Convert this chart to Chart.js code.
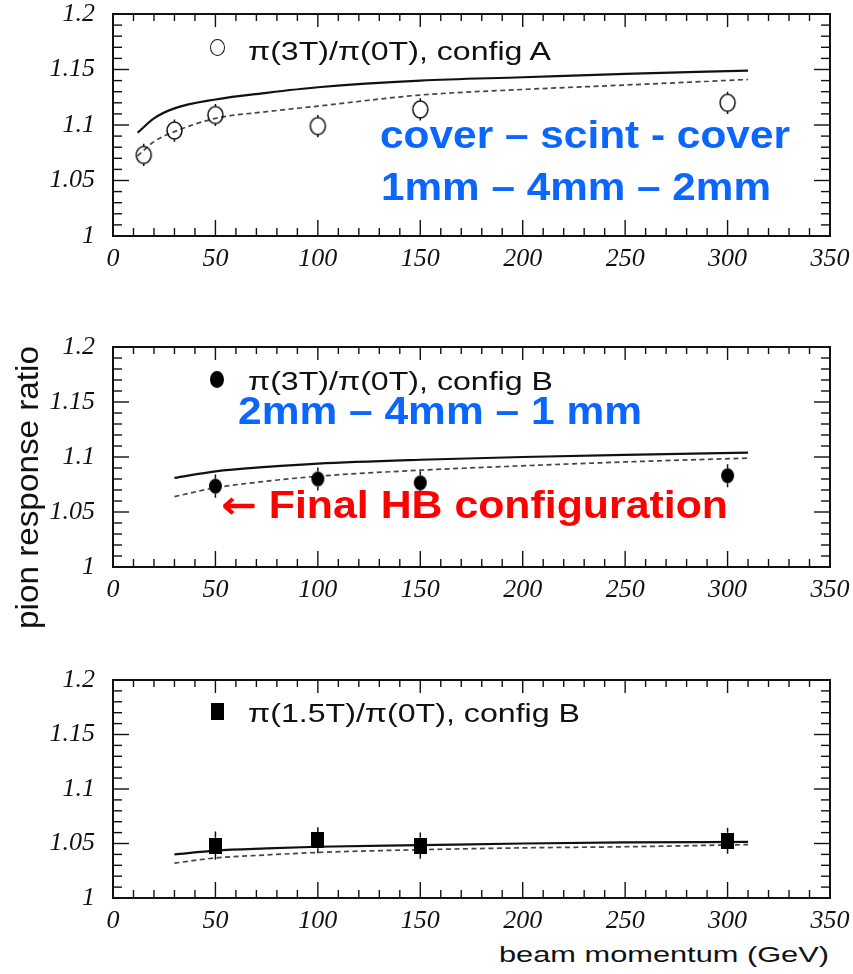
<!DOCTYPE html>
<html><head><meta charset="utf-8">
<script src="https://cdn.jsdelivr.net/npm/chart.js@4/dist/chart.umd.min.js"></script>
<style>
html,body{margin:0;padding:0;background:#fff;}
#wrap{position:relative;width:853px;height:974px;overflow:hidden;background:#fff;}
canvas.pl{position:absolute;left:0;}
.t{position:absolute;white-space:nowrap;transform-origin:0 0;line-height:1;}
.leg{font-family:"Liberation Sans",Arial,sans-serif;font-size:25px;color:#111;}
.big{font-family:"Liberation Sans",Arial,sans-serif;font-weight:bold;font-size:38px;}
.arr{font-family:"DejaVu Sans",sans-serif;font-weight:bold;}
.blue{color:#0a66ff;}
.red{color:#ff0000;}
.mk{position:absolute;box-sizing:border-box;}
</style></head><body>
<div id="wrap">
<canvas id="c1" class="pl" width="853" height="280" style="top:0px;width:853px;height:280px"></canvas>
<canvas id="c2" class="pl" width="853" height="290" style="top:320px;width:853px;height:290px"></canvas>
<canvas id="c3" class="pl" width="853" height="280" style="top:660px;width:853px;height:280px"></canvas>

<div class="mk" style="left:210px;top:39px;width:15px;height:17px;border:1.5px solid #111;border-radius:50%;"></div>
<div id="legA" class="t leg" style="left:248px;top:39px;">π(3T)/π(0T), config A</div>
<div class="mk" style="left:210px;top:371px;width:14px;height:17px;background:#000;border-radius:50%;"></div>
<div id="legB" class="t leg" style="left:248px;top:369px;">π(3T)/π(0T), config B</div>
<div class="mk" style="left:211px;top:703px;width:13px;height:17px;background:#000;"></div>
<div id="legC" class="t leg" style="left:248px;top:701px;">π(1.5T)/π(0T), config B</div>

<div id="blue1" class="t big blue" style="left:380px;top:116px;">cover – scint - cover</div>
<div id="blue2" class="t big blue" style="left:381px;top:168px;">1mm – 4mm – 2mm</div>
<div id="blue3" class="t big blue" style="left:238px;top:392px;">2mm – 4mm – 1 mm</div>
<div id="red1" class="t big red" style="left:221px;top:486px;"><span class="arr">←</span> Final HB configuration</div>

<div id="xtitle" class="t leg" style="left:500px;top:944px;font-size:22px;">beam momentum (GeV)</div>
<div id="ytitle" class="t leg" style="left:11px;top:629px;font-size:32px;">pion response ratio</div>
</div>
<script>
// ---------- data ----------
const xTickValues = [0, 50, 100, 150, 200, 250, 300, 350];
const yTickValues = [1, 1.05, 1.1, 1.15, 1.2];

// panel A: pi(3T)/pi(0T), config A
const momA = [15, 30, 50, 100, 150, 300];
const ratioA = [1.073, 1.095, 1.109, 1.099, 1.114, 1.120];
const errA = [0.010, 0.010, 0.010, 0.010, 0.010, 0.010];
const curveMomA = [12, 20, 30, 50, 75, 100, 150, 200, 250, 310];
const solidA = [1.093, 1.106, 1.115, 1.123, 1.129, 1.134, 1.140, 1.143, 1.146, 1.149];
const dashedA = [1.072, 1.085, 1.094, 1.106, 1.112, 1.117, 1.127, 1.132, 1.136, 1.141];

// panel B: pi(3T)/pi(0T), config B
const momB = [50, 100, 150, 300];
const ratioB = [1.0735, 1.080, 1.0765, 1.083];
const errB = [0.0105, 0.0105, 0.0105, 0.0105];
const curveMomB = [30, 50, 75, 100, 150, 200, 250, 310];
const solidB = [1.081, 1.087, 1.091, 1.094, 1.0975, 1.100, 1.102, 1.104];
const dashedB = [1.064, 1.072, 1.078, 1.0825, 1.088, 1.092, 1.0955, 1.099];

// panel C: pi(1.5T)/pi(0T), config B
const momC = [50, 100, 150, 300];
const ratioC = [1.048, 1.053, 1.048, 1.0525];
const errC = [0.013, 0.012, 0.012, 0.012];
const curveMomC = [30, 50, 75, 100, 150, 200, 250, 310];
const solidC = [1.040, 1.0435, 1.0455, 1.047, 1.0485, 1.050, 1.051, 1.0515];
const dashedC = [1.032, 1.0367, 1.0395, 1.0418, 1.0443, 1.046, 1.047, 1.049];

// ---------- markers ----------
function ellipseMarker(w, h, filled) {
  const c = document.createElement('canvas');
  c.width = w + 4; c.height = h + 4;
  const g = c.getContext('2d');
  g.beginPath();
  g.ellipse(c.width / 2, c.height / 2, w / 2, h / 2, 0, 0, Math.PI * 2);
  if (filled) { g.fillStyle = '#000'; g.fill(); }
  else { g.lineWidth = 1.5; g.strokeStyle = '#111'; g.stroke(); }
  return c;
}
function rectMarker(w, h) {
  const c = document.createElement('canvas');
  c.width = w; c.height = h;
  const g = c.getContext('2d');
  g.fillStyle = '#000'; g.fillRect(0, 0, w, h);
  return c;
}

// ---------- plugins ----------
const rootFrame = {
  id: 'rootFrame',
  afterDatasetsDraw(chart) {
    const { ctx, chartArea: a, scales: { x, y } } = chart;
    ctx.save();
    ctx.strokeStyle = '#111';
    ctx.lineWidth = 1.4;
    const seg = (x1, y1, x2, y2) => { ctx.beginPath(); ctx.moveTo(x1, y1); ctx.lineTo(x2, y2); ctx.stroke(); };
    for (let i = 0; i <= 35; i++) {
      const px = x.getPixelForValue(i * 10);
      const major = i % 5 === 0;
      seg(px, a.bottom, px, a.bottom - (major ? 16 : 8));
      seg(px, a.top, px, a.top + (major ? 13 : 7));
    }
    for (let i = 0; i <= 20; i++) {
      const py = y.getPixelForValue(1 + i * 0.01);
      const major = i % 5 === 0;
      seg(a.left, py, a.left + (major ? 16 : 9), py);
      seg(a.right, py, a.right - (major ? 16 : 9), py);
    }
    ctx.lineWidth = 2;
    ctx.strokeRect(a.left, a.top, a.width, a.height);
    ctx.restore();
  }
};
const errorBars = {
  id: 'errorBars',
  afterDatasetsDraw(chart) {
    const { ctx, scales: { y } } = chart;
    chart.data.datasets.forEach((ds, di) => {
      if (!ds.errors) return;
      const meta = chart.getDatasetMeta(di);
      ctx.save();
      ctx.strokeStyle = '#111';
      ctx.lineWidth = 1.5;
      meta.data.forEach((pt, i) => {
        const v = ds.data[i].y, e = ds.errors[i];
        const yTop = y.getPixelForValue(v + e), yBot = y.getPixelForValue(v - e);
        const gap = ds.markerHalf;
        ctx.beginPath();
        ctx.moveTo(pt.x, yTop); ctx.lineTo(pt.x, pt.y - gap);
        ctx.moveTo(pt.x, pt.y + gap); ctx.lineTo(pt.x, yBot);
        ctx.stroke();
      });
      ctx.restore();
    });
  }
};

const tickFont = { family: '"Liberation Serif", "Times New Roman", serif', style: 'italic', size: 26, lineHeight: 1 };

function makePanel(id, mom, ratio, errs, cMom, solid, dashed, marker, markerHalf, areaTop, areaBottom, canvasTop, canvasH) {
  const xyz = (xs, ys) => xs.map((v, i) => ({ x: v, y: ys[i] }));
  return new Chart(document.getElementById(id), {
    type: 'scatter',
    data: {
      datasets: [
        { data: xyz(mom, ratio), errors: errs, markerHalf: markerHalf, pointStyle: marker, pointRadius: 8, order: 0 },
        { data: xyz(cMom, solid), showLine: true, pointRadius: 0, borderColor: '#111', borderWidth: 2.2,
          cubicInterpolationMode: 'monotone', order: 1 },
        { data: xyz(cMom, dashed), showLine: true, pointRadius: 0, borderColor: '#444', borderWidth: 1.7,
          borderDash: [5, 3.5], cubicInterpolationMode: 'monotone', order: 2 }
      ]
    },
    options: {
      responsive: false, animation: false, events: [],
      layout: { padding: { top: areaTop - canvasTop, right: 23, left: 0, bottom: 0 } },
      plugins: { legend: { display: false }, tooltip: { enabled: false } },
      scales: {
        x: {
          type: 'linear', min: 0, max: 350,
          grid: { display: false, drawTicks: false }, border: { display: false },
          afterBuildTicks: s => { s.ticks = xTickValues.map(v => ({ value: v })); },
          afterFit: s => { s.height = canvasH - (areaBottom - canvasTop); s.paddingLeft = 0; s.paddingRight = 0; },
          ticks: { color: '#111', font: tickFont, padding: 10, maxRotation: 0, autoSkip: false,
            callback: v => String(v) }
        },
        y: {
          type: 'linear', min: 1, max: 1.2,
          grid: { display: false, drawTicks: false }, border: { display: false },
          afterBuildTicks: s => { s.ticks = yTickValues.map(v => ({ value: v })); },
          afterFit: s => { s.width = 113; s.paddingTop = 0; s.paddingBottom = 0; },
          ticks: { color: '#111', font: tickFont, padding: 18, autoSkip: false,
            callback: v => String(+Number(v).toFixed(2)) }
        }
      }
    },
    plugins: [rootFrame, errorBars]
  });
}

makePanel('c1', momA, ratioA, errA, curveMomA, solidA, dashedA, ellipseMarker(15, 17, false), 8.5, 14, 236, 0, 280);
makePanel('c2', momB, ratioB, errB, curveMomB, solidB, dashedB, ellipseMarker(13, 15, true), 7.5, 347, 567, 320, 290);
makePanel('c3', momC, ratioC, errC, curveMomC, solidC, dashedC, rectMarker(13, 16), 8, 680, 898, 660, 280);

// ---------- text fitting ----------
function fit(id, w, rightEdge) {
  const el = document.getElementById(id);
  el.style.transform = 'none';
  const r = el.getBoundingClientRect().width;
  const s = w / r;
  if (rightEdge !== undefined) el.style.left = (rightEdge - w) + 'px';
  el.style.transform = 'scaleX(' + s + ')';
}
function fitRot(id, len) {
  const el = document.getElementById(id);
  el.style.transform = 'none';
  const r = el.getBoundingClientRect().width;
  el.style.transform = 'rotate(-90deg) scaleX(' + (len / r) + ')';
}
function fitAll() {
  fit('legA', 303); fit('legB', 305); fit('legC', 332);
  fit('blue1', 410); fit('blue2', 390); fit('blue3', 404); fit('red1', 507);
  fit('xtitle', 330, 829);
  fitRot('ytitle', 283);
}
fitAll();
if (document.fonts && document.fonts.ready) document.fonts.ready.then(fitAll);
</script>
</body></html>
